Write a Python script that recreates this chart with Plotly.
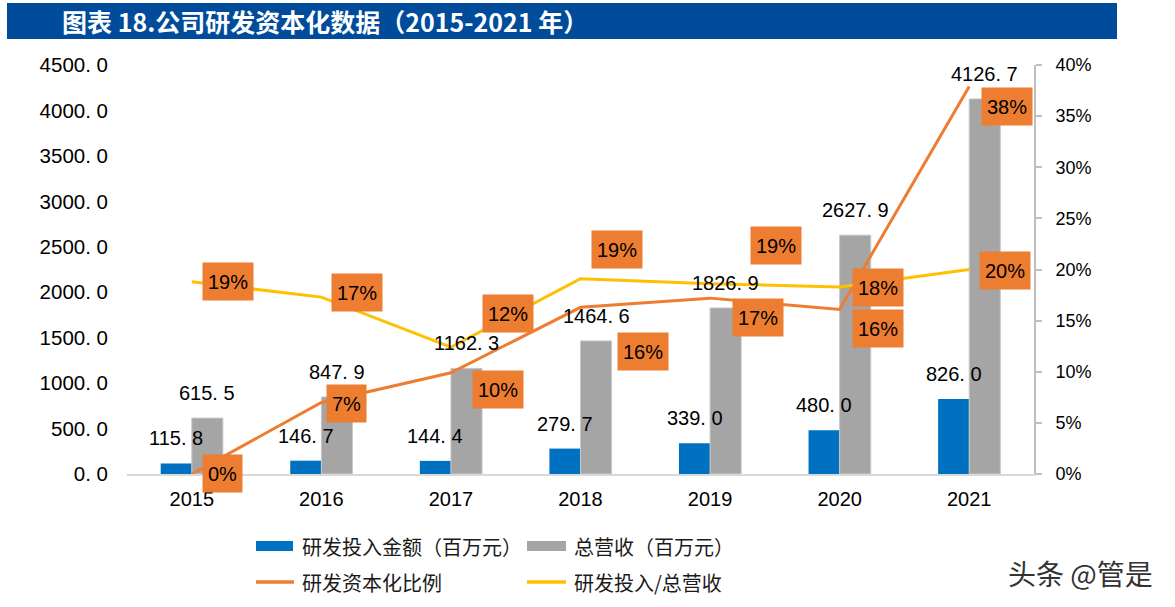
import plotly.graph_objects as go

# ---------------- data ----------------
years = ["2015", "2016", "2017", "2018", "2019", "2020", "2021"]
rd_spend = [115.8, 146.7, 144.4, 279.7, 339.0, 480.0, 826.0]          # 研发投入金额（百万元）
revenue = [615.5, 847.9, 1162.3, 1464.6, 1826.9, 2627.9, 4126.7]      # 总营收（百万元）
cap_ratio = [0.0, 0.070, 0.099, 0.163, 0.172, 0.161, 0.379]           # 研发资本化比例
rd_to_rev = [0.188, 0.173, 0.124, 0.191, 0.186, 0.183, 0.200]         # 研发投入/总营收
left_ticks = [0, 500, 1000, 1500, 2000, 2500, 3000, 3500, 4000, 4500]
right_ticks = [0, 0.05, 0.10, 0.15, 0.20, 0.25, 0.30, 0.35, 0.40]

name_rd = "研发投入金额（百万元）"
name_rev = "总营收（百万元）"
name_cap = "研发资本化比例"
name_ratio = "研发投入/总营收"
title_text = "图表 18.公司研发资本化数据（2015-2021 年）"
watermark = "头条 @管是"

# ---------------- layout constants ----------------
W, H = 1175, 607
L, R, T, B = 127, 1034, 65, 474

BLUE, GRAY, ORANGE, YELLOW = "#0070C0", "#A5A5A5", "#ED7D31", "#FFC000"
NUM_FONT = "Liberation Sans, Arial, sans-serif"
CJK_FONT = "Noto Sans CJK SC, sans-serif"
BOX_FONT = "Liberation Sans Narrow, Arial Narrow, Liberation Sans, Arial, sans-serif"

# label box offsets (pixels) relative to each point
cap_dx = [31, 25, 47, 62, 48, 38, 38]
cap_dy = [1, -1, -17, -44, -19, -19, -20]
ratio_dx = [36, 36, 57, 36, 66, 38, 36]
ratio_dy = [0, 5, 34, 29, 38, -1, -1]


def pxx(x):
    return (x - L) / (R - L)


def pxy(y):
    return (B - y) / (B - T)


def fmt1(v):
    return f"{v:.1f}".replace(".", ". ")


fig = go.Figure()
fig.add_trace(go.Bar(x=years, y=rd_spend, name=name_rd, marker=dict(color=BLUE, line=dict(width=0)), yaxis="y"))
fig.add_trace(go.Bar(x=years, y=revenue, name=name_rev,
                     marker=dict(color=GRAY, line=dict(width=1, color="#C8C8C8")), yaxis="y"))
fig.add_trace(go.Scatter(x=years, y=cap_ratio, name=name_cap, mode="lines",
                         line=dict(color=ORANGE, width=3), yaxis="y2"))
fig.add_trace(go.Scatter(x=years, y=rd_to_rev, name=name_ratio, mode="lines",
                         line=dict(color=YELLOW, width=3), yaxis="y2"))

annotations = []
# bar value labels (x given as category index)
for i, v in enumerate(rd_spend):
    annotations.append(dict(x=i, y=v, xref="x", yref="y", text=fmt1(v), showarrow=False,
                            xshift=-15.5, yshift=25, yanchor="middle",
                            font=dict(family=NUM_FONT, size=20, color="#000")))
for i, v in enumerate(revenue):
    annotations.append(dict(x=i, y=v, xref="x", yref="y", text=fmt1(v), showarrow=False,
                            xshift=15.5, yshift=25, yanchor="middle",
                            font=dict(family=NUM_FONT, size=20, color="#000")))
# percentage boxes
for vals, dxs, dys in ((rd_to_rev, ratio_dx, ratio_dy), (cap_ratio, cap_dx, cap_dy)):
    for i, (v, dx, dy) in enumerate(zip(vals, dxs, dys)):
        annotations.append(dict(x=i, y=v, xref="x", yref="y2", text=f"{round(v * 100)}%",
                                showarrow=False, xshift=dx, yshift=dy, yanchor="middle",
                                xanchor="center", bgcolor=ORANGE, borderpad=5, height=27,
                                font=dict(family=BOX_FONT, size=20, color="#000")))

# title
annotations.append(dict(x=pxx(60), y=pxy(21), xref="paper", yref="paper", text="<b>" + title_text + "</b>",
                        showarrow=False, xanchor="left", yanchor="middle",
                        font=dict(family=CJK_FONT, size=25, color="#FFFFFF")))
# legend texts
legend_items = [(300, 546, name_rd), (572, 546, name_rev), (300, 582, name_cap), (572, 582, name_ratio)]
for x, y, t in legend_items:
    annotations.append(dict(x=pxx(x), y=pxy(y), xref="paper", yref="paper", text=t, showarrow=False,
                            xanchor="left", yanchor="middle",
                            font=dict(family=CJK_FONT, size=20, color="#1a1a1a")))
# watermark
annotations.append(dict(x=pxx(1080), y=pxy(573), xref="paper", yref="paper", text=watermark, showarrow=False,
                        xanchor="center", yanchor="middle",
                        font=dict(family=CJK_FONT, size=28, color="#333333")))

shapes = [
    dict(type="rect", xref="paper", yref="paper", x0=pxx(7), x1=pxx(1117), y0=pxy(3), y1=pxy(39),
         fillcolor="#004C9B", line=dict(width=0), layer="below"),
    dict(type="rect", xref="paper", yref="paper", x0=pxx(256), x1=pxx(293), y0=pxy(551), y1=pxy(541),
         fillcolor=BLUE, line=dict(width=0)),
    dict(type="rect", xref="paper", yref="paper", x0=pxx(527), x1=pxx(566), y0=pxy(551), y1=pxy(541),
         fillcolor=GRAY, line=dict(width=0)),
    dict(type="line", xref="paper", yref="paper", x0=pxx(256), x1=pxx(294), y0=pxy(582), y1=pxy(582),
         line=dict(color=ORANGE, width=3.5)),
    dict(type="line", xref="paper", yref="paper", x0=pxx(527), x1=pxx(566), y0=pxy(582), y1=pxy(582),
         line=dict(color=YELLOW, width=3.5)),
]

fig.update_layout(
    width=W, height=H,
    margin=dict(l=L, r=W - R, t=T, b=H - B, pad=0),
    paper_bgcolor="white", plot_bgcolor="white",
    barmode="group", bargap=0.52, bargroupgap=0,
    showlegend=False, hovermode=False,
    annotations=annotations, shapes=shapes,
    xaxis=dict(type="category", range=[-0.5, len(years) - 0.5], showline=True, linecolor="#D9D9D9",
               linewidth=2, ticks="", showgrid=False, zeroline=False, ticklabelstandoff=6,
               tickfont=dict(family=NUM_FONT, size=20, color="#000")),
    yaxis=dict(range=[0, 4500], tickvals=left_ticks, ticktext=[fmt1(v) for v in left_ticks],
               showgrid=False, zeroline=False, showline=False, ticks="", ticklabelstandoff=18,
               tickfont=dict(family=NUM_FONT, size=20.5, color="#000")),
    yaxis2=dict(range=[0, 0.40], overlaying="y", side="right", tickvals=right_ticks, tickformat=".0%",
                showgrid=False, zeroline=False, showline=True, linecolor="#BFBFBF", linewidth=2,
                ticks="outside", ticklen=6, tickwidth=1.5, tickcolor="#BFBFBF", ticklabelstandoff=10,
                tickfont=dict(family=NUM_FONT, size=18, color="#000")),
)

fig.write_html("out.html", config={"displayModeBar": False},
               post_script="document.body.style.margin='0';")
